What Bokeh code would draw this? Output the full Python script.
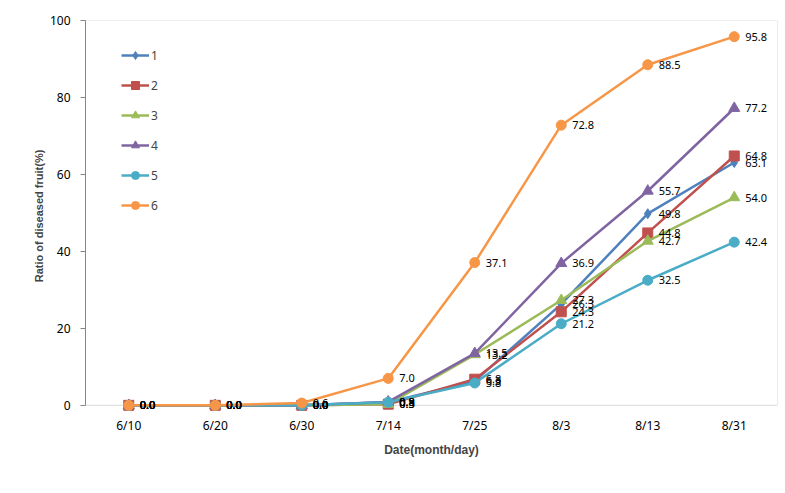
from bokeh.plotting import figure
from bokeh.models import FactorRange, Range1d, Legend, LegendItem, ColumnDataSource, BoxAnnotation
from bokeh.core.properties import value
from bokeh.embed import file_html
from bokeh.resources import INLINE

dates = ["6/10", "6/20", "6/30", "7/14", "7/25", "8/3", "8/13", "8/31"]
s1 = [0.0, 0.0, 0.0, 0.8, 6.3, 26.3, 49.8, 63.1]
s2 = [0.0, 0.0, 0.0, 0.3, 6.8, 24.3, 44.8, 64.8]
s3 = [0.0, 0.0, 0.0, 0.3, 13.2, 27.3, 42.7, 54.0]
s4 = [0.0, 0.0, 0.0, 0.9, 13.5, 36.9, 55.7, 77.2]
s5 = [0.0, 0.0, 0.0, 0.8, 5.8, 21.2, 32.5, 42.4]
s6 = [0.0, 0.0, 0.6, 7.0, 37.1, 72.8, 88.5, 95.8]
names = ["1", "2", "3", "4", "5", "6"]
series = [s1, s2, s3, s4, s5, s6]
colors = ["#4F81BD", "#C0504D", "#9BBB59", "#8064A2", "#4BACC6", "#F79646"]
markers = ["diamond", "square", "triangle", "triangle", "circle", "circle"]
msizes = [10, 10, 11, 11, 10, 10]

p = figure(x_range=FactorRange(*dates), y_range=Range1d(-1.6, 100),
           width=778, height=480, output_backend="svg", toolbar_location=None,
           min_border_left=85, min_border_right=1, min_border_top=20, min_border_bottom=69)
p.xgrid.visible = False
p.ygrid.visible = False
p.outline_line_color = None
p.background_fill_color = "white"
p.border_fill_color = "white"

frame = BoxAnnotation(bottom=0, top=100, fill_alpha=0, line_color="#868686",
                      line_width=1, level="underlay")
p.add_layout(frame)

font = "Noto Sans"
p.yaxis.ticker = [0, 20, 40, 60, 80, 100]
p.yaxis.bounds = (0, 100)
p.yaxis.minor_tick_line_color = None
p.yaxis.major_tick_in = 0
p.yaxis.major_tick_out = 5
p.yaxis.axis_line_color = "#868686"
p.yaxis.major_tick_line_color = "#868686"
p.yaxis.major_label_text_font = font
p.yaxis.major_label_text_font_size = "12px"
p.yaxis.major_label_text_color = "black"
p.yaxis.major_label_standoff = 10
p.yaxis.axis_label = "Ratio of diseased fruit(%)"
p.yaxis.axis_label_text_font = "Liberation Sans"
p.yaxis.axis_label_text_font_style = "bold"
p.yaxis.axis_label_text_font_size = "11px"
p.yaxis.axis_label_standoff = 2

p.xaxis.major_tick_in = 0
p.xaxis.major_tick_out = 0
p.xaxis.axis_line_color = None
p.xaxis.major_label_text_font = font
p.xaxis.major_label_text_font_size = "12px"
p.xaxis.major_label_text_color = "black"
p.xaxis.major_label_standoff = 5
p.xaxis.axis_label = "Date(month/day)"
p.xaxis.axis_label_text_font = "Liberation Sans"
p.xaxis.axis_label_text_font_style = "bold"
p.xaxis.axis_label_text_font_size = "12px"
p.xaxis.axis_label_standoff = 6

items = []
for name, vals, c, m, ms in zip(names, series, colors, markers, msizes):
    src = ColumnDataSource(dict(x=dates, y=vals))
    lr = p.line("x", "y", source=src, line_color=c, line_width=2.5)
    sr = p.scatter("x", "y", source=src, marker=m, size=ms, fill_color=c, line_color=c)
    items.append(LegendItem(label=name, renderers=[lr, sr]))

for vals in series:
    src = ColumnDataSource(dict(x=dates, y=vals, t=["%.1f" % v for v in vals]))
    p.text("x", "y", text="t", source=src, x_offset=11, text_baseline="middle",
           text_align="left", text_font=value("Noto Sans"), text_font_size="11px",
           text_color="black")

legend = Legend(items=items, location=(36, 196), glyph_width=28, glyph_height=20,
                label_height=20, spacing=10, padding=5, label_standoff=2,
                label_text_font=font, label_text_font_size="12px",
                background_fill_alpha=0, border_line_color=None)
p.add_layout(legend, "center")

open("out.html", "w").write(file_html(p, INLINE))
